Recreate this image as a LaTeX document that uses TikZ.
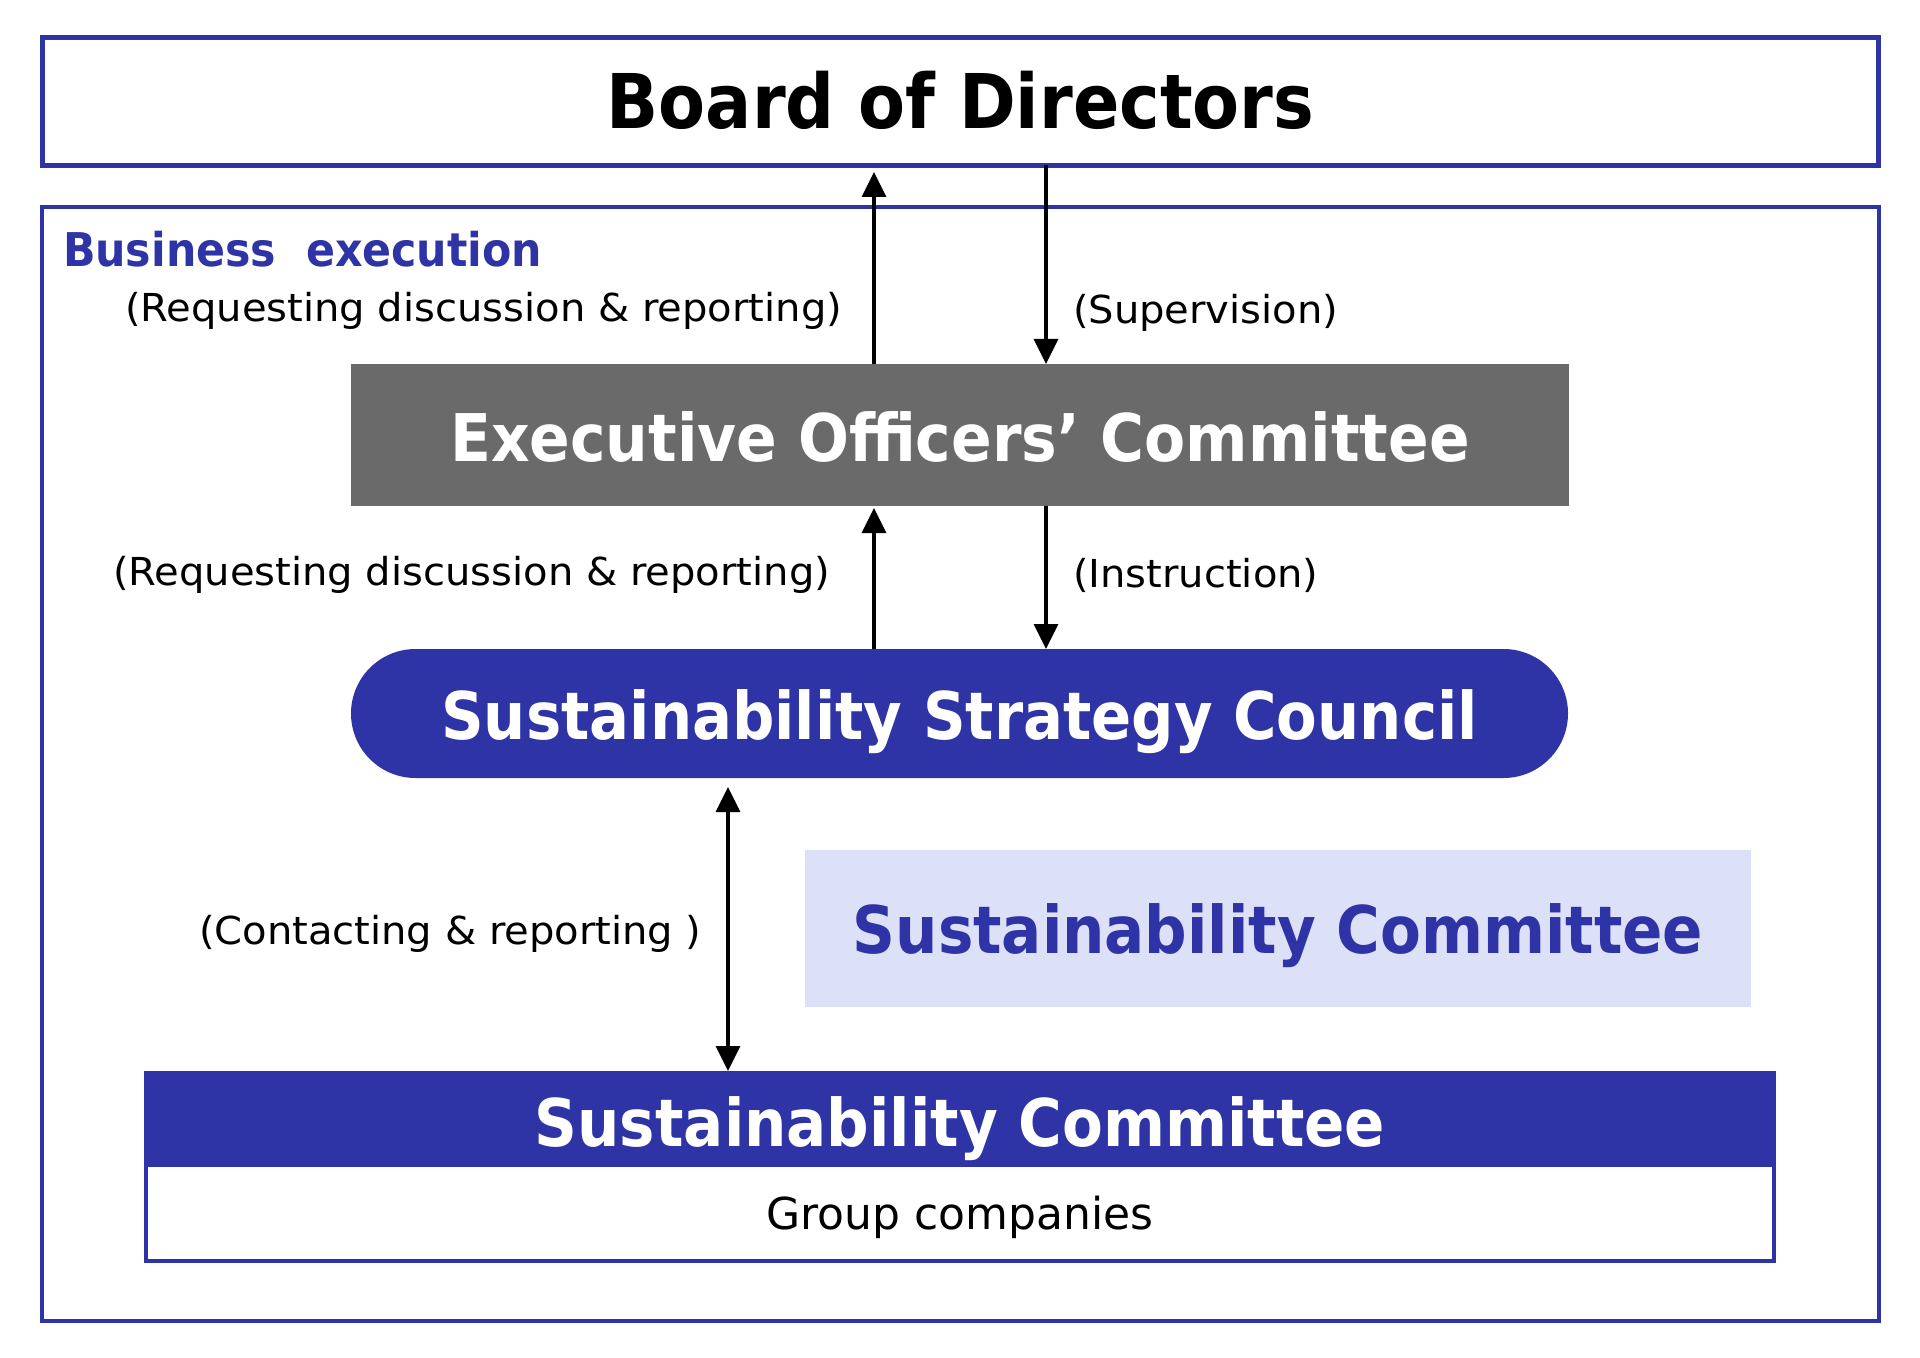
\documentclass[tikz,border=0pt]{standalone}
\usepackage{fontspec}
\setmainfont{DejaVu Sans}
\usetikzlibrary{arrows.meta}
\definecolor{navy}{RGB}{46,51,165}
\definecolor{exgray}{RGB}{106,106,106}
\definecolor{paleblue}{RGB}{220,225,248}
\begin{document}
\begin{tikzpicture}[x=0.4pt,y=-0.4pt,
  boxnode/.style={rectangle, inner sep=0pt, outer sep=0pt, text depth=0pt},
  lbl/.style={inner sep=0pt, outer sep=0pt, anchor=base west, font=\fontsize{15.4pt}{18pt}\selectfont},
  arr/.style={line width=1.4pt, -{Triangle[length=10pt,width=9.6pt]}},
  dblarr/.style={line width=1.4pt, {Triangle[length=10pt,width=9.6pt]}-{Triangle[length=10pt,width=9.6pt]}},
  bigbold/.style={font=\fontsize{26.3pt}{32pt}\selectfont\bfseries}
]
\useasboundingbox (0,0) rectangle (1920,1358);

% Board of Directors
\node[boxnode, draw=navy, line width=2pt, minimum width=734.4pt, minimum height=51.2pt,
      text height=22pt, font=\fontsize{30.2pt}{36pt}\selectfont\bfseries]
  (board) at (960.5,101.5) {\scalebox{0.906}[1]{Board of Directors}};

% Business execution frame
\node[boxnode, draw=navy, line width=1.8pt, minimum width=734.8pt, minimum height=445.6pt]
  (biz) at (960.5,764) {};
\node[lbl, font=\fontsize{18.6pt}{22pt}\selectfont\bfseries, text=navy]
  (bizlabel) at (63,267) {\scalebox{0.919}[1]{Business~~execution}};

% Executive Officers' Committee
\node[boxnode, fill=exgray, text=white, bigbold, minimum width=487.2pt, minimum height=56.8pt,
      text height=20.8pt]
  (exec) at (960,435) {\scalebox{0.911}[1]{Executive Officers’ Committee}};

% Sustainability Strategy Council
\node[boxnode, fill=navy, text=white, bigbold, rounded corners=25.8pt,
      minimum width=486.8pt, minimum height=51.6pt, text height=20.4pt]
  (ssc) at (959.5,713.5) {\scalebox{0.901}[1]{Sustainability Strategy Council}};

% Sustainability Committee (pale)
\node[boxnode, fill=paleblue, text=navy, bigbold, minimum width=378.4pt, minimum height=62.8pt,
      text height=20pt]
  (pale) at (1278,928.5) {\scalebox{0.905}[1]{Sustainability Committee}};

% Group companies box
\node[boxnode, draw=navy, line width=1.6pt, minimum width=651.2pt, minimum height=38.4pt,
      text height=13.2pt, font=\fontsize{17.6pt}{21pt}\selectfont]
  (gc) at (960,1213) {Group companies};
\node[boxnode, fill=navy, text=white, bigbold, minimum width=652.8pt, minimum height=38.4pt,
      text height=21.6pt]
  (sc) at (960,1119) {\scalebox{0.905}[1]{Sustainability Committee}};

% arrow columns
\coordinate (cL) at (874,0);
\coordinate (cR) at (1046,0);
\coordinate (cC) at (728,0);

\draw[arr, shorten >=2.6pt] (exec.north -| cL) -- (board.south -| cL);
\draw[arr] (board.south -| cR) -- (exec.north -| cR);
\draw[arr, shorten >=0.8pt] (ssc.north -| cL) -- (exec.south -| cL);
\draw[arr] (exec.south -| cR) -- (ssc.north -| cR);
\draw[dblarr, shorten <=3.6pt] (ssc.south -| cC) -- (sc.north -| cC);

% labels
\node[lbl] (l1) at (125,322) {\scalebox{1.04}[1]{(Requesting discussion \& reporting)}};
\node[lbl] (l2) at (1073,324) {\scalebox{1.04}[1]{(Supervision)}};
\node[lbl] (l3) at (113,585) {\scalebox{1.04}[1]{(Requesting discussion \& reporting)}};
\node[lbl] (l4) at (1073,587) {\scalebox{1.04}[1]{(Instruction)}};
\node[lbl] (l5) at (199,944) {\scalebox{1.04}[1]{(Contacting \& reporting )}};
\end{tikzpicture}
\end{document}
